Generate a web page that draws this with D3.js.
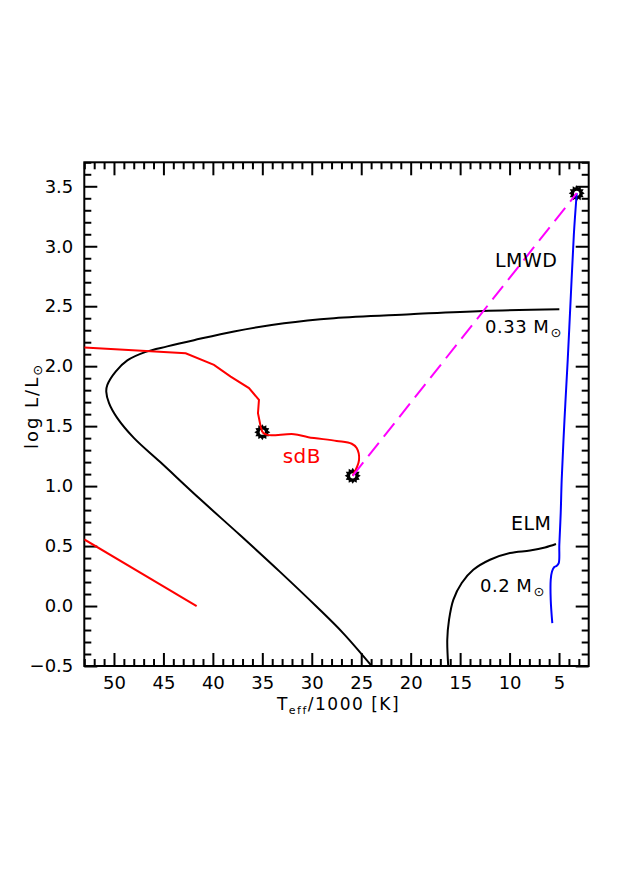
<!DOCTYPE html>
<html>
<head>
<meta charset="utf-8">
<script src="https://cdn.jsdelivr.net/npm/d3@7"></script>
<style>
  body { margin: 0; background: #fff; }
  text { font-family: "DejaVu Sans", sans-serif; }
</style>
</head>
<body>
<svg id="chart" width="623" height="881"></svg>
<script>

// tracks, [Teff/1000, log L]
var track033 = [[4.97,2.475],[12.69,2.461],[20,2.433],[27.75,2.40],[32.81,2.358],[37.86,2.29],
  [41.91,2.217],[44.61,2.165],[46.79,2.119],[48.65,2.048],[49.83,1.955],[50.67,1.844],[50.78,1.788],
  [50.50,1.692],[49.66,1.567],[47.97,1.40],[45.35,1.2025],[41.30,0.892],[37.26,0.592],[33.21,0.285],
  [29.50,-0.006],[26.81,-0.2275],[23.94,-0.5]];

var track02 = [[5.31,0.517],[6.42,0.488],[7.93,0.463],[9.96,0.442],[11.98,0.386],[13.67,0.302],
  [14.84,0.192],[15.69,0.052],[16.12,-0.114],[16.30,-0.281],[16.2,-0.5]];

var sdbUpper = [[53,2.155],[42.75,2.108],[39.89,2.011],[38.2,1.913],[36.35,1.817],[35.34,1.719],
  [35.44,1.608],[35.17,1.497],[35.0,1.45]];
var sdbLower = [[35.0,1.45],[34.49,1.427],[31.8,1.433],[30.35,1.408],[27.48,1.377],[25.96,1.353],
  [25.46,1.317],[25.22,1.219],[25.86,1.086]];

var hotLine = [[53,0.555],[41.64,0.0]];

var lmwdTrack = [[3.21,3.442],[3.5,3.1],[3.8,2.6],[4.12,2.053],[4.45,1.55],[4.73,1.053],[4.83,0.775],
  [4.97,0.511],[5.03,0.358],[5.23,0.336],[5.48,0.325],[5.71,0.288],[5.84,0.219],[5.84,0.052],[5.68,-0.142]];

var transfer = [[25.86,1.086],[3.21,3.442]];

var stars = [[35.0,1.45],[25.86,1.086],[3.21,3.442]];

var xMajor = [50,45,40,35,30,25,20,15,10,5];
var yMajor = [-0.5,0,0.5,1,1.5,2,2.5,3,3.5];

var labels = [
  {t: "LMWD", T: 11.47, L: 2.83, c: "#000", s: 19},
  {t: "0.33 M", T: 12.48, L: 2.275, c: "#000", s: 18, sun: true},
  {t: "ELM", T: 9.86, L: 0.636, c: "#000", s: 19},
  {t: "0.2 M", T: 12.99, L: 0.113, c: "#000", s: 18, sun: true},
  {t: "sdB", T: 32.94, L: 1.192, c: "#ff0000", s: 20}
];

var pL = 84.3, pR = 588.7, pT = 162.3, pB = 666;

var svg = d3.select('#chart');

var x = d3.scaleLinear().domain([53, 2]).range([pL, pR]);
var y = d3.scaleLinear().domain([-0.5, 3.7]).range([pB, pT]);

var xMinor = d3.range(3, 54, 1).filter(function(d){ return d % 5 != 0; });
var yMinor = d3.range(-5, 38, 1).map(function(d){ return d / 10; })
  .filter(function(d){ return Math.round(d * 10) % 5 != 0; });

svg.append('defs').append('clipPath').attr('id', 'clip')
  .append('rect').attr('x', pL).attr('y', pT)
  .attr('width', pR - pL).attr('height', pB - pT);

function styleAxis(g) {
  g.select('.domain').remove();
  g.selectAll('line').attr('stroke', '#000').attr('stroke-width', 2);
  g.selectAll('text').attr('font-size', 18).attr('fill', '#000')
    .style('font-family', '"DejaVu Sans", sans-serif');
}

var fmt = function(d){ return d3.format('.1f')(d).replace('-', '\u2212'); };

// bottom
svg.append('g').attr('transform', 'translate(0,' + pB + ')')
  .call(d3.axisBottom(x).tickValues(xMajor).tickSizeInner(-13).tickSizeOuter(0).tickPadding(10))
  .call(styleAxis);
svg.append('g').attr('transform', 'translate(0,' + pB + ')')
  .call(d3.axisBottom(x).tickValues(xMinor).tickSizeInner(-7).tickSizeOuter(0).tickFormat(''))
  .call(styleAxis);
// top
svg.append('g').attr('transform', 'translate(0,' + pT + ')')
  .call(d3.axisTop(x).tickValues(xMajor).tickSizeInner(-13).tickSizeOuter(0).tickFormat(''))
  .call(styleAxis);
svg.append('g').attr('transform', 'translate(0,' + pT + ')')
  .call(d3.axisTop(x).tickValues(xMinor).tickSizeInner(-7).tickSizeOuter(0).tickFormat(''))
  .call(styleAxis);
// left
svg.append('g').attr('transform', 'translate(' + pL + ',0)')
  .call(d3.axisLeft(y).tickValues(yMajor).tickSizeInner(-13).tickSizeOuter(0).tickPadding(11).tickFormat(fmt))
  .call(styleAxis);
svg.append('g').attr('transform', 'translate(' + pL + ',0)')
  .call(d3.axisLeft(y).tickValues(yMinor).tickSizeInner(-7).tickSizeOuter(0).tickFormat(''))
  .call(styleAxis);
// right
svg.append('g').attr('transform', 'translate(' + pR + ',0)')
  .call(d3.axisRight(y).tickValues(yMajor).tickSizeInner(-13).tickSizeOuter(0).tickFormat(''))
  .call(styleAxis);
svg.append('g').attr('transform', 'translate(' + pR + ',0)')
  .call(d3.axisRight(y).tickValues(yMinor).tickSizeInner(-7).tickSizeOuter(0).tickFormat(''))
  .call(styleAxis);

svg.append('rect')
  .attr('x', pL).attr('y', pT)
  .attr('width', pR - pL).attr('height', pB - pT)
  .attr('fill', 'none').attr('stroke', '#000').attr('stroke-width', 2);

var plot = svg.append('g').attr('clip-path', 'url(#clip)');

var smooth = d3.line().x(function(d){ return x(d[0]); }).y(function(d){ return y(d[1]); })
  .curve(d3.curveCatmullRom.alpha(0.5));
var straight = d3.line().x(function(d){ return x(d[0]); }).y(function(d){ return y(d[1]); });

// stars underneath
var gear = [];
for (var i = 0; i < 24; i++) {
  var a = i / 24 * 2 * Math.PI;
  gear.push([a, (i % 2 == 0) ? 8 : 5.8]);
}
var gearPath = d3.lineRadial().curve(d3.curveLinearClosed)(gear);

var st = plot.selectAll('.star').data(stars).enter().append('g')
  .attr('transform', function(d){ return 'translate(' + x(d[0]) + ',' + y(d[1]) + ')'; });
st.append('path').attr('d', gearPath).attr('fill', '#000');
st.append('circle').attr('r', 2.6).attr('fill', '#fff');

plot.append('path').attr('d', smooth(track033))
  .attr('fill', 'none').attr('stroke', '#000').attr('stroke-width', 2);
plot.append('path').attr('d', smooth(track02))
  .attr('fill', 'none').attr('stroke', '#000').attr('stroke-width', 2);

plot.append('path').attr('d', straight(sdbUpper))
  .attr('fill', 'none').attr('stroke', '#ff0000').attr('stroke-width', 2);
plot.append('path').attr('d', smooth(sdbLower))
  .attr('fill', 'none').attr('stroke', '#ff0000').attr('stroke-width', 2);
plot.append('path').attr('d', straight(hotLine))
  .attr('fill', 'none').attr('stroke', '#ff0000').attr('stroke-width', 2);

plot.append('path').attr('d', smooth(lmwdTrack))
  .attr('fill', 'none').attr('stroke', '#0000ff').attr('stroke-width', 2);

plot.append('path').attr('d', straight(transfer))
  .attr('fill', 'none').attr('stroke', '#ff00ff').attr('stroke-width', 2)
  .attr('stroke-dasharray', '17,8');

// labels
labels.forEach(function(l){
  var t = svg.append('text')
    .attr('x', x(l.T)).attr('y', y(l.L))
    .attr('font-size', l.s).attr('fill', l.c)
    .attr('letter-spacing', 0.5)
    .text(l.t);
  if (l.sun) {
    t.append('tspan').attr('dx', 1).attr('dy', 4).attr('font-size', 13).text('\u2299');
  }
});

// axis titles
var xt = svg.append('text')
  .attr('x', (pL + pR) / 2 + 2).attr('y', 710)
  .attr('text-anchor', 'middle').attr('font-size', 17).attr('letter-spacing', 1.5);
xt.append('tspan').text('T');
xt.append('tspan').attr('font-size', 11).attr('dy', 4).text('eff');
xt.append('tspan').attr('dy', -4).text('/1000 [K]');

var yt = svg.append('text')
  .attr('transform', 'translate(38,' + 406 + ') rotate(-90)')
  .attr('text-anchor', 'middle').attr('font-size', 18).attr('letter-spacing', 2);
yt.append('tspan').text('log L/L');
yt.append('tspan').attr('font-size', 13).attr('dy', 4).text('\u2299');

</script>
</body>
</html>
